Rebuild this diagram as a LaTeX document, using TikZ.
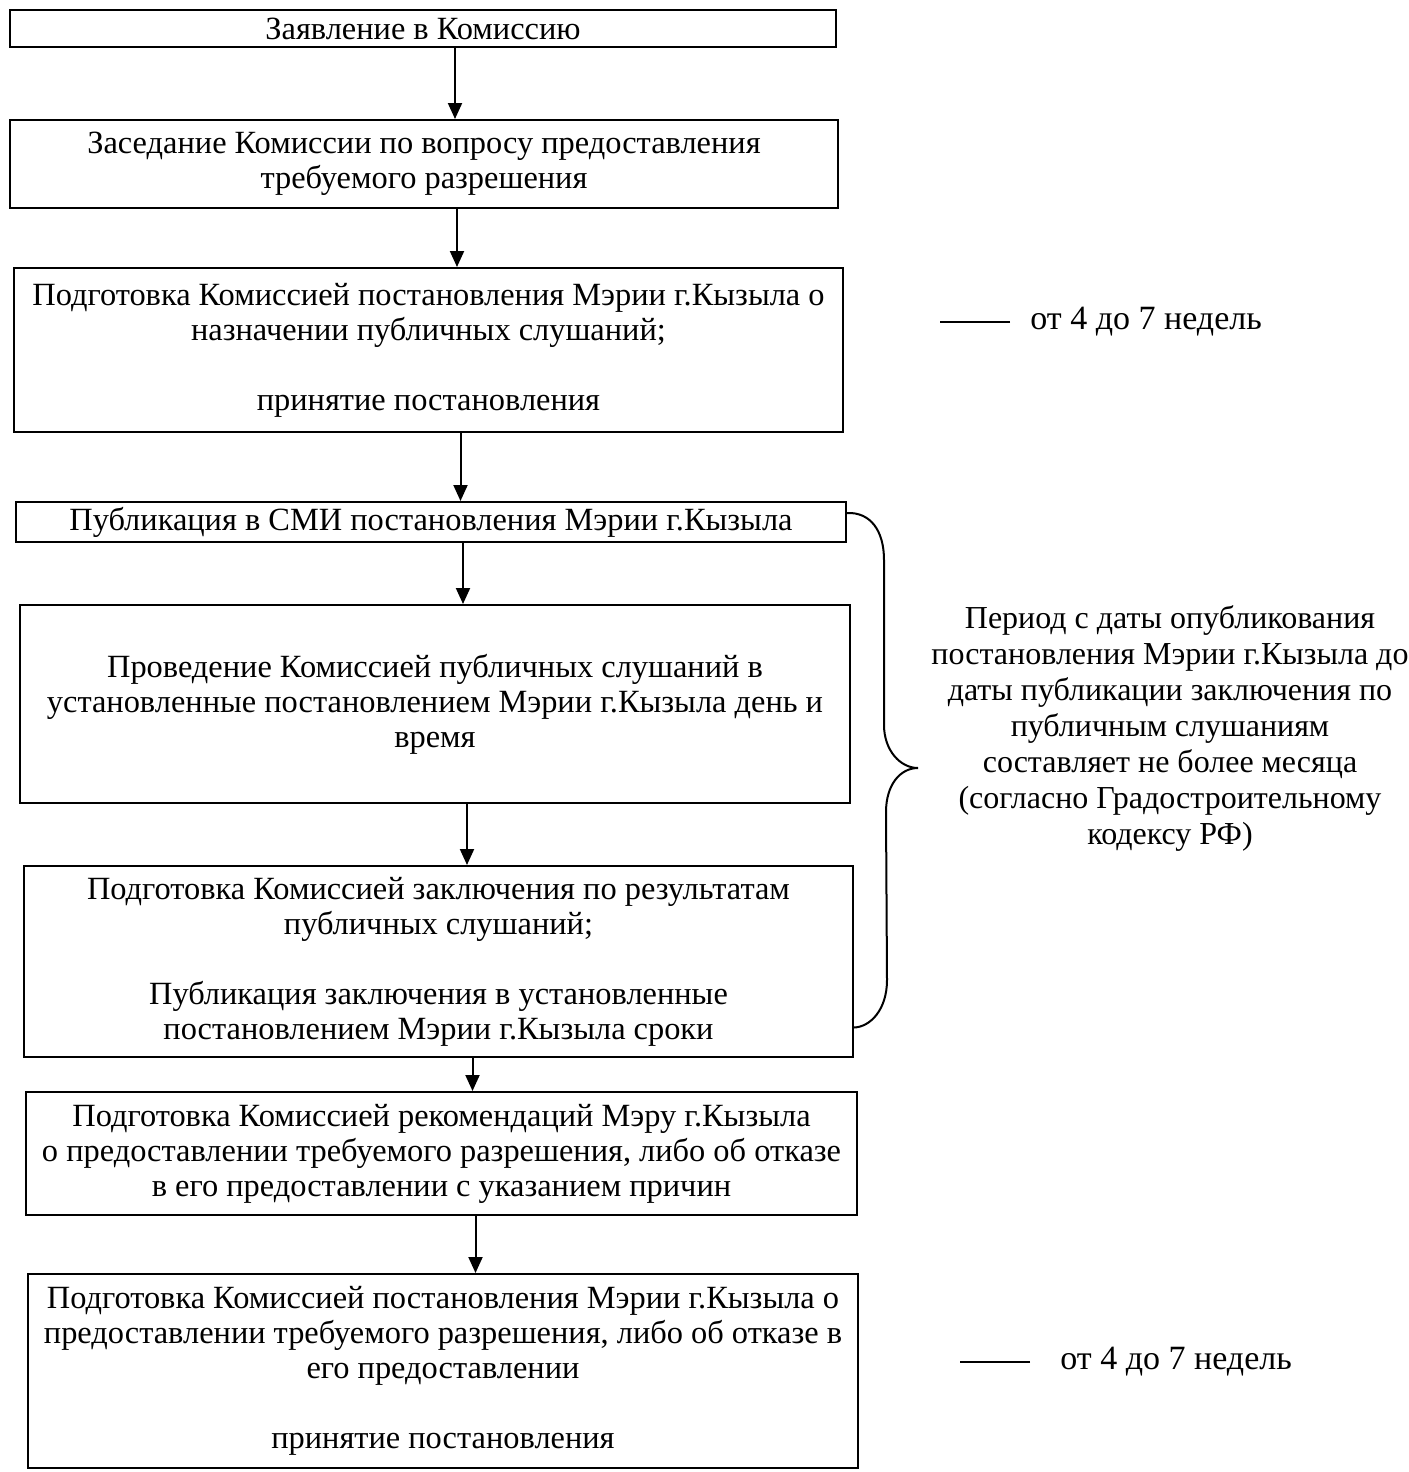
\documentclass[tikz,border=0pt]{standalone}
\usepackage{fontspec}
\setmainfont{Liberation Serif}
\usetikzlibrary{arrows.meta}

\begin{document}
\begin{tikzpicture}[x=0.5pt, y=-0.5pt,
    box/.style={draw, line width=1pt, inner sep=0pt, align=center,
                font=\fontsize{16.2pt}{17.5pt}\selectfont},
    arr/.style={line width=1pt, -{Triangle[width=7pt, length=8pt]}},
    note/.style={inner sep=0pt, align=center,
                 font=\fontsize{16pt}{18pt}\selectfont}]

\useasboundingbox (0,0) rectangle (1408,1472);

\node[box, minimum width=413pt, minimum height=18.5pt] (b1) at (423,28.5)
    {\raisebox{-3pt}{Заявление в Комиссию}};
\node[box, minimum width=414pt, minimum height=44pt] (b2) at (424,164)
    {Заседание Комиссии по вопросу предоставления\\ требуемого разрешения};
\node[box, minimum width=414.5pt, minimum height=82pt] (b3) at (428.5,350)
    {Подготовка Комиссией постановления Мэрии г.Кызыла о\\
     назначении публичных слушаний;\\[17.5pt] принятие постановления};
\node[box, minimum width=415pt, minimum height=20pt] (b4) at (431,522)
    {Публикация в СМИ постановления Мэрии г.Кызыла};
\node[box, minimum width=415pt, minimum height=99pt] (b5) at (435,704)
    {Проведение Комиссией публичных слушаний в\\
     установленные постановлением Мэрии г.Кызыла день и\\ время};
\node[box, minimum width=414.5pt, minimum height=95.5pt] (b6) at (438.5,961.5)
    {Подготовка Комиссией заключения по результатам\\ публичных слушаний;\\[17.5pt]
     Публикация заключения в установленные\\ постановлением Мэрии г.Кызыла сроки};
\node[box, minimum width=415.5pt, minimum height=61.5pt] (b7) at (441.5,1153.5)
    {Подготовка Комиссией рекомендаций Мэру г.Кызыла\\
     о предоставлении требуемого разрешения, либо об отказе\\
     в его предоставлении с указанием причин};
\node[box, minimum width=415pt, minimum height=97pt] (b8) at (443,1371)
    {Подготовка Комиссией постановления Мэрии г.Кызыла о\\
     предоставлении требуемого разрешения, либо об отказе в\\
     его предоставлении\\[17.5pt] принятие постановления};

% arrows
\draw[arr] ([xshift=16pt]b1.south) -- ([xshift=16pt]b1.south |- b2.north);
\draw[arr] ([xshift=16.5pt]b2.south) -- ([xshift=16.5pt]b2.south |- b3.north);
\draw[arr] ([xshift=16pt]b3.south) -- ([xshift=16pt]b3.south |- b4.north);
\draw[arr] ([xshift=16pt]b4.south) -- ([xshift=16pt]b4.south |- b5.north);
\draw[arr] ([xshift=16pt]b5.south) -- ([xshift=16pt]b5.south |- b6.north);
\draw[arr] ([xshift=17pt]b6.south) -- ([xshift=17pt]b6.south |- b7.north);
\draw[arr] ([xshift=17pt]b7.south) -- ([xshift=17pt]b7.south |- b8.north);

% brace
\coordinate (btop) at ([yshift=-6pt]b4.north east);
\coordinate (bbot) at ([yshift=-33pt]b6.east);
\coordinate (btip) at (918,768);
\draw[line width=1pt] (btop) .. controls (870,512) and (884,530) .. (884,560)
    -- (884,725) .. controls (884,750) and (900,768) .. (btip)
    .. controls (900,768) and (886,785) .. (886,812)
    -- (887,980) .. controls (887,1010) and (870,1027) .. (bbot);

\node[note] (per) at (1170,728)
    {Период с даты опубликования\\ постановления Мэрии г.Кызыла до\\
     даты публикации заключения по\\ публичным слушаниям\\
     составляет не более месяца\\ (согласно Градостроительному\\ кодексу РФ)};

% terms
\node[note, font=\fontsize{17pt}{18pt}\selectfont, anchor=west] (t1) at (1030,322) {от 4 до 7 недель};
\draw[line width=0.8pt] ([xshift=-10pt]t1.west) -- ++(-70,0);
\node[note, font=\fontsize{17pt}{18pt}\selectfont, anchor=west] (t2) at (1060,1362) {от 4 до 7 недель};
\draw[line width=0.8pt] ([xshift=-15pt]t2.west) -- ++(-70,0);

\end{tikzpicture}
\end{document}
